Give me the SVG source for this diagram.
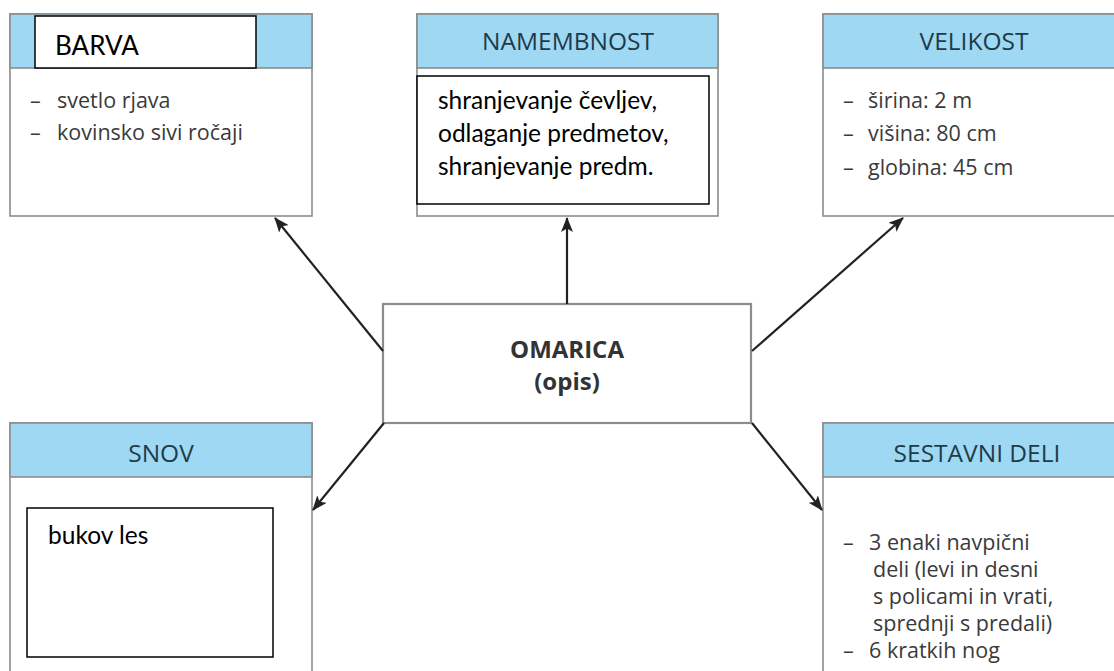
<svg xmlns="http://www.w3.org/2000/svg" width="1114" height="671" viewBox="0 0 1114 671">
<defs>
<style>
.box{fill:#fff;stroke:#8c8c8c;stroke-width:1.6}
.hdr{fill:#9ed8f2;stroke:#8c8c8c;stroke-width:1.6}
.ovl{fill:#fff;stroke:#000;stroke-width:1.5}
.ht{font-family:"Open Sans","Noto Sans",sans-serif;font-size:24.5px;fill:#1f3b4a;text-anchor:middle}
.bt{font-family:"Open Sans","Noto Sans",sans-serif;font-size:21.5px;fill:#3a3a3a}
.ct{font-family:"Lato","Liberation Sans",sans-serif;font-size:24.5px;fill:#000}
.mt{font-family:"Open Sans","Noto Sans",sans-serif;font-size:24px;font-weight:bold;fill:#333;text-anchor:middle}
.conn{stroke:#222;stroke-width:2.2;fill:none;marker-end:url(#ah)}
</style>
<marker id="ah" viewBox="0 0 15 12" refX="14" refY="6" markerWidth="15" markerHeight="12" markerUnits="userSpaceOnUse" orient="auto">
<path d="M0,0 L15,6 L0,12 L3.5,6 Z" fill="#222"/>
</marker>
</defs>
<g id="barva">
<rect class="box" x="10" y="14" width="302" height="202"/>
<rect class="hdr" x="10" y="14" width="302" height="54"/>
<rect class="ovl" x="35" y="16" width="221" height="52"/>
<text class="ct" x="55" y="55" style="font-size:26px">BARVA</text>
<text class="bt" x="30" y="108">–</text><text class="bt" x="57" y="108">svetlo rjava</text>
<text class="bt" x="30" y="140">–</text><text class="bt" x="57" y="140">kovinsko sivi ročaji</text>
</g>
<g id="namembnost">
<rect class="box" x="417" y="14" width="301" height="202"/>
<rect class="hdr" x="417" y="14" width="301" height="54"/>
<text class="ht" x="568" y="50">NAMEMBNOST</text>
<rect class="ovl" x="417" y="76" width="292" height="128"/>
<text class="ct" x="438" y="109">shranjevanje čevljev,</text>
<text class="ct" x="438" y="142">odlaganje predmetov,</text>
<text class="ct" x="438" y="175">shranjevanje predm.</text>
</g>
<g id="velikost">
<rect class="box" x="823" y="14" width="310" height="202"/>
<rect class="hdr" x="823" y="14" width="310" height="54"/>
<text class="ht" x="974" y="50">VELIKOST</text>
<text class="bt" x="843" y="108">–</text><text class="bt" x="868" y="108">širina: 2 m</text>
<text class="bt" x="843" y="141">–</text><text class="bt" x="868" y="141">višina: 80 cm</text>
<text class="bt" x="843" y="175">–</text><text class="bt" x="868" y="175">globina: 45 cm</text>
</g>
<g id="omarica">
<rect class="box" x="383" y="304" width="368" height="119" style="stroke-width:2.2"/>
<text class="mt" x="567" y="358">OMARICA</text>
<text class="mt" x="567" y="390">(opis)</text>
</g>
<g id="snov">
<rect class="box" x="10" y="423" width="302" height="260"/>
<rect class="hdr" x="10" y="423" width="302" height="54"/>
<text class="ht" x="161" y="462">SNOV</text>
<rect class="ovl" x="27" y="508" width="246" height="149"/>
<text class="ct" x="48" y="544">bukov les</text>
</g>
<g id="sestavni-deli">
<rect class="box" x="823" y="423" width="310" height="260"/>
<rect class="hdr" x="823" y="423" width="310" height="54"/>
<text class="ht" x="977" y="462">SESTAVNI DELI</text>
<text class="bt" x="843" y="550">–</text><text class="bt" x="869" y="550">3 enaki navpični</text>
<text class="bt" x="873" y="577">deli (levi in desni</text>
<text class="bt" x="873" y="604">s policami in vrati,</text>
<text class="bt" x="873" y="631">sprednji s predali)</text>
<text class="bt" x="843" y="658">–</text><text class="bt" x="869" y="658">6 kratkih nog</text>
</g>
<g id="connectors">
<line class="conn" x1="383" y1="351" x2="275" y2="218"/>
<line class="conn" x1="567" y1="304" x2="567" y2="218"/>
<line class="conn" x1="752" y1="351" x2="903" y2="218"/>
<line class="conn" x1="384" y1="423" x2="313" y2="510"/>
<line class="conn" x1="752" y1="423" x2="822" y2="510"/>
</g>
</svg>
